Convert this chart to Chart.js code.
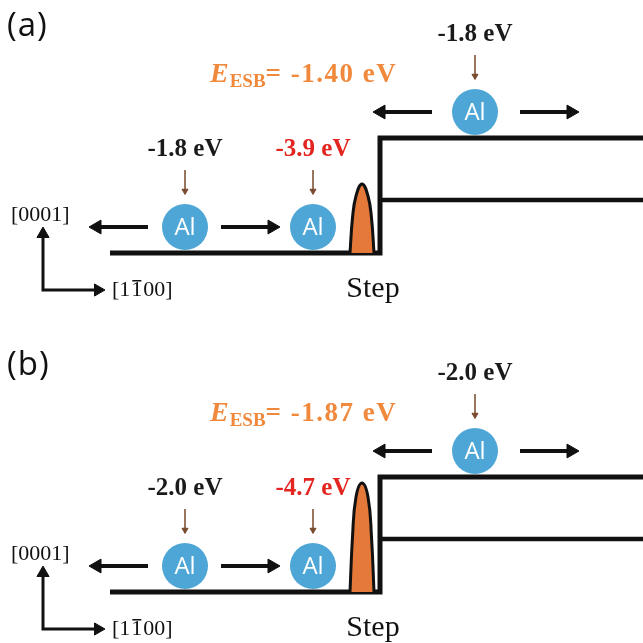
<!DOCTYPE html>
<html lang="en">
<head>
<meta charset="UTF-8">
<title>Al adatom diffusion across a step</title>
<script src="https://cdn.jsdelivr.net/npm/chart.js@4"></script>
<style>
  html, body { margin: 0; padding: 0; background: #fff; overflow: hidden; }
  canvas { display: block; }
</style>
</head>
<body>
<canvas id="panelA" width="643" height="321"></canvas>
<canvas id="panelB" width="643" height="322"></canvas>

<script>
// adsorption sites: lower terrace, next to the step, upper terrace
const siteX = [185, 313, 475];
const siteY = [26, 26, 141];

const energiesA = ['-1.8 eV', '-3.9 eV', '-1.8 eV'];
const energiesB = ['-2.0 eV', '-4.7 eV', '-2.0 eV'];
const esbA = '-1.40';
const esbB = '-1.87';

// surface profile (height above the lower terrace)
const terraceX = [110, 380, 380, 643];
const terraceY = [0, 0, 115, 115];
const layerX = [380, 643];
const layerY = [53, 53];

// Ehrlich-Schwoebel barrier outline
const barrierX = [350, 352.5, 356, 362, 368, 371.5, 374];
const barrierA = [0, 35, 57, 69, 57, 35, 0];
const barrierB = [0, 55, 95, 109, 95, 55, 0];

// hop arrows: which site, direction, gap from the atom
const hopSite = [0, 0, 2, 2];
const hopDir = [-1, 1, -1, 1];
const hopGap = [37, 36, 43, 45];
const hopLen = 59;

const BLUE = '#4da6d5';
const ORANGE = '#e5793a';
const ESB_ORANGE = '#f0893c';
const RED = '#e3241f';
const INK = '#111';
const SERIF = '"Liberation Serif", "DejaVu Serif", serif';
const SANS = '"Open Sans", "Liberation Sans", sans-serif';

function arrowDataset(points, rotations, radius, color, width) {
  return {
    data: points,
    showLine: true,
    borderColor: color,
    borderWidth: width,
    pointStyle: 'triangle',
    pointRadius: rotations.map(r => r === null ? 0 : radius),
    rotation: rotations.map(r => r === null ? 0 : r),
    pointBackgroundColor: color,
    pointBorderColor: color,
    pointBorderWidth: 1,
    clip: false
  };
}

function buildDatasets(barrierY) {
  const sets = [];
  // Al atoms (index 0 = drawn on top)
  sets.push({
    data: siteX.map((x, i) => ({ x, y: siteY[i] })),
    pointRadius: 23,
    pointBackgroundColor: BLUE,
    pointBorderWidth: 0,
    clip: false
  });
  // hop arrows
  hopSite.forEach((s, i) => {
    const d = hopDir[i];
    const r = 8;
    const start = siteX[s] + d * hopGap[i];
    const tip = start + d * hopLen;
    sets.push(arrowDataset(
      [{ x: start, y: siteY[s] }, { x: tip - d * r, y: siteY[s] }],
      [null, d > 0 ? 90 : -90], r, INK, 4));
  });
  // small pointers from the energy labels
  siteX.forEach((x, i) => {
    sets.push(arrowDataset(
      [{ x, y: siteY[i] + 57 }, { x, y: siteY[i] + 36 }],
      [null, 180], 3.5, '#7a4a2c', 1.5));
  });
  // crystal axes
  sets.push(arrowDataset(
    [{ x: 98, y: -37 }, { x: 43, y: -37 }, { x: 43, y: 19 }],
    [90, null, 0], 7, INK, 3));
  // barrier
  sets.push({
    data: barrierX.map((x, i) => ({ x, y: barrierY[i] })),
    showLine: true,
    tension: 0.45,
    borderColor: INK,
    borderWidth: 3,
    backgroundColor: ORANGE,
    fill: 'origin',
    pointRadius: 0,
    clip: false
  });
  // terraces
  sets.push({
    data: terraceX.map((x, i) => ({ x, y: terraceY[i] })),
    showLine: true, borderColor: INK, borderWidth: 5, pointRadius: 0,
    borderJoinStyle: 'miter', clip: false
  });
  sets.push({
    data: layerX.map((x, i) => ({ x, y: layerY[i] })),
    showLine: true, borderColor: INK, borderWidth: 4.5, pointRadius: 0, clip: false
  });
  return sets;
}

function textPlugin(panel) {
  return {
    id: 'schematicText',
    afterDatasetsDraw(chart) {
      const { ctx, scales: { x, y } } = chart;
      const px = v => x.getPixelForValue(v);
      const py = v => y.getPixelForValue(v);
      ctx.save();
      ctx.textBaseline = 'middle';

      ctx.textAlign = 'left';
      ctx.fillStyle = INK;
      ctx.font = '33px ' + SANS;
      ctx.letterSpacing = '1px';
      ctx.fillText(panel.label, px(7), py(226));
      ctx.letterSpacing = '0px';

      ctx.textAlign = 'center';
      ctx.fillStyle = '#fff';
      ctx.font = '24px ' + SANS;
      siteX.forEach((sx, i) => ctx.fillText('Al', px(sx), py(siteY[i]) + 1));

      ctx.font = 'bold 25px ' + SERIF;
      siteX.forEach((sx, i) => {
        ctx.fillStyle = i === 1 ? RED : '#1a1a1a';
        ctx.fillText(panel.energies[i], px(sx), py(siteY[i] + 77));
      });

      // E_ESB = ...
      ctx.textAlign = 'left';
      ctx.textBaseline = 'alphabetic';
      ctx.fillStyle = ESB_ORANGE;
      let cx = px(210);
      const base = py(171);
      ctx.font = 'italic bold 28px ' + SERIF;
      ctx.fillText('E', cx, base);
      cx += ctx.measureText('E').width + 1;
      ctx.font = 'bold 19px ' + SERIF;
      ctx.fillText('ESB', cx, base + 5);
      cx += ctx.measureText('ESB').width;
      ctx.font = 'bold 27px ' + SERIF;
      ctx.letterSpacing = '1.5px';
      ctx.fillText('= ' + panel.esb + ' eV', cx, base);
      ctx.letterSpacing = '0px';

      // axis labels
      ctx.textBaseline = 'middle';
      ctx.fillStyle = INK;
      ctx.font = '22px ' + SERIF;
      ctx.fillText('[0001]', px(11), py(38));
      let ax = px(112);
      const ay = py(-37);
      ctx.fillText('[1', ax, ay);
      ax += ctx.measureText('[1').width + 1;
      const w1 = ctx.measureText('1').width;
      ctx.fillText('1', ax, ay);
      ctx.fillRect(ax + 1, ay - 10, w1 - 2, 1.5);
      ax += w1 + 1;
      ctx.fillText('00]', ax, ay);

      ctx.font = '30px ' + SERIF;
      ctx.textAlign = 'center';
      ctx.fillText('Step', px(373), py(-36));
      ctx.restore();
    }
  };
}

function makePanel(id, panel) {
  return new Chart(document.getElementById(id), {
    type: 'scatter',
    data: { datasets: buildDatasets(panel.barrier) },
    options: {
      responsive: false,
      animation: false,
      events: [],
      layout: { padding: 0, autoPadding: false },
      plugins: { legend: { display: false }, tooltip: { enabled: false } },
      scales: {
        x: { type: 'linear', min: 0, max: 643, display: false },
        y: { type: 'linear', min: panel.yMin, max: panel.yMax, display: false }
      }
    },
    plugins: [textPlugin(panel)]
  });
}

makePanel('panelA', { label: '(a)', energies: energiesA, esb: esbA, barrier: barrierA, yMin: -68, yMax: 253 });
makePanel('panelB', { label: '(b)', energies: energiesB, esb: esbB, barrier: barrierB, yMin: -51, yMax: 271 });
</script>
</body>
</html>
